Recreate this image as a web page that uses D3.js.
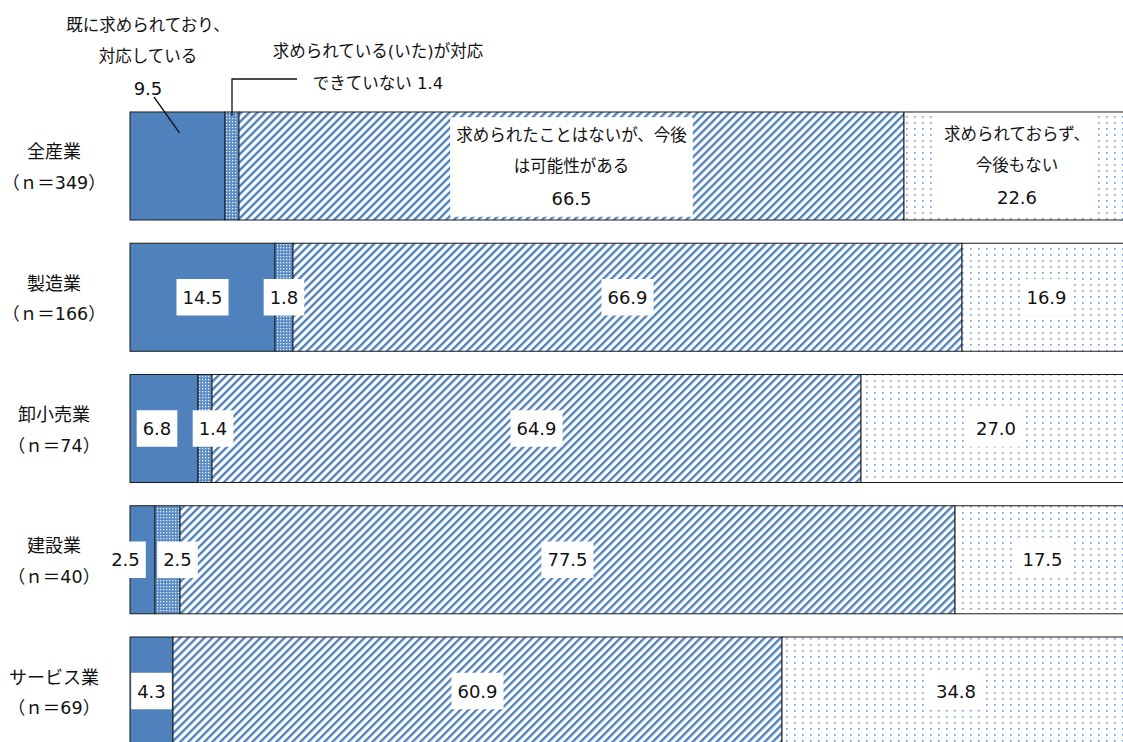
<!DOCTYPE html>
<html><head><meta charset="utf-8">
<script src="https://cdn.jsdelivr.net/npm/d3@7"></script>
<style>
html,body{margin:0;padding:0;background:#fff;overflow:hidden}
text{font-family:"DejaVu Sans","Noto Sans CJK JP",sans-serif;font-size:18px;fill:#111}
text.nl{font-size:17.5px}
text.jp{font-size:16.5px}
</style></head>
<body>
<svg id="chart" width="1123" height="742"></svg>
<script>
// ---- data ----
const categories = ["全産業","製造業","卸小売業","建設業","サービス業"];
const nLabels = ["（ｎ＝349）","（ｎ＝166）","（ｎ＝74）","（ｎ＝40）","（ｎ＝69）"];
const seriesNames = [
  "既に求められており、対応している",
  "求められている(いた)が対応できていない",
  "求められたことはないが、今後は可能性がある",
  "求められておらず、今後もない"
];
const s1 = [9.5, 14.5, 6.8, 2.5, 4.3];
const s2 = [1.4, 1.8, 1.4, 2.5, 0];
const s3 = [66.5, 66.9, 64.9, 77.5, 60.9];
const s4 = [22.6, 16.9, 27.0, 17.5, 34.8];
const seriesValues = [s1, s2, s3, s4];

// ---- layout / style ----
const blue = "#4F81BD";
const svg = d3.select("#chart");
const x = d3.scaleLinear().domain([0, 100]).range([130, 1130]);
const y = d3.scaleBand().domain(categories).range([88.75, 768.25]).padding(0.177);

const defs = svg.append("defs");
const p2 = defs.append("pattern").attr("id","p2").attr("width",3).attr("height",3).attr("patternUnits","userSpaceOnUse");
p2.append("rect").attr("width",3).attr("height",3).attr("fill","#5a8cc8");
p2.append("rect").attr("x",1).attr("y",1).attr("width",1.3).attr("height",1.3).attr("fill","#e8f0fa");
const p3 = defs.append("pattern").attr("id","p3").attr("width",5.66).attr("height",10)
  .attr("patternUnits","userSpaceOnUse").attr("patternTransform","rotate(45)");
p3.append("rect").attr("width",5.66).attr("height",10).attr("fill","#fff");
p3.append("rect").attr("width",2.4).attr("height",10).attr("fill",blue);
const p4 = defs.append("pattern").attr("id","p4").attr("width",8).attr("height",6).attr("patternUnits","userSpaceOnUse");
p4.append("rect").attr("width",8).attr("height",6).attr("fill","#fff");
p4.append("rect").attr("x",2).attr("y",2).attr("width",1.6).attr("height",1.6).attr("fill","#6e98cf");
const fills = [blue, "url(#p2)", "url(#p3)", "url(#p4)"];

// stacked data
const stacked = categories.map((c, i) => {
  let acc = 0;
  return seriesValues.map((s, k) => {
    const d = {cat: c, row: i, k, v: s[i], x0: acc, x1: acc + s[i]};
    acc += s[i];
    return d;
  });
});
const segs = stacked.flat().filter(d => d.v > 0);

svg.append("g").selectAll("rect").data(segs).join("rect")
  .attr("x", d => x(d.x0)).attr("y", d => y(d.cat))
  .attr("width", d => x(d.x1) - x(d.x0)).attr("height", y.bandwidth())
  .attr("fill", d => fills[d.k]).attr("stroke", "#1a1a1a").attr("stroke-width", 1);

// category labels
const catG = svg.append("g");
categories.forEach((c, i) => {
  const cy = y(c) + y.bandwidth()/2;
  catG.append("text").attr("x", 54).attr("y", cy - 14).attr("text-anchor","middle").attr("dominant-baseline","central").text(c);
  catG.append("text").attr("class","nl").attr("x", 54).attr("y", cy + 17).attr("text-anchor","middle").attr("dominant-baseline","central").text(nLabels[i]);
});

// label helpers
const labG = svg.append("g");
function boxLabel(cx, cy, lines, withBox) {
  const lh = 31.5;
  const g = labG.append("g");
  const rect = g.append("rect").attr("fill", "#fff");
  const t0 = cy - (lines.length - 1) * lh / 2;
  let maxW = 0;
  lines.forEach((ln, j) => {
    const t = g.append("text").attr("x", cx).attr("y", t0 + j*lh)
      .attr("class", /[^\x00-\x7f]/.test(ln) ? "jp" : null)
      .attr("text-anchor","middle").attr("dominant-baseline","central").text(ln);
    maxW = Math.max(maxW, t.node().getComputedTextLength());
  });
  if (withBox) {
    const h = lines.length * lh + 5;
    rect.attr("x", cx - maxW/2 - 6).attr("y", cy - h/2).attr("width", maxW + 12).attr("height", h);
  } else rect.remove();
}
const fmt = d3.format(".1f");
// per-label horizontal nudges (row,k) as in the original
const nudge = {"2-0": -7, "2-1": 8, "3-0": -17, "3-1": 10};

segs.forEach(d => {
  const cx = (x(d.x0) + x(d.x1)) / 2 + (nudge[d.row + "-" + d.k] || 0);
  const cy = y(d.cat) + y.bandwidth()/2;
  if (d.row === 0) {
    if (d.k === 2) boxLabel(cx, cy + 1, ["求められたことはないが、今後", "は可能性がある", fmt(d.v)], true);
    if (d.k === 3) boxLabel(cx, cy, ["求められておらず、", "今後もない", fmt(d.v)], true);
  } else {
    boxLabel(cx, cy, [fmt(d.v)], true);
  }
});

// external labels for first row, small segments
const r0 = stacked[0];
const top0 = y(categories[0]);
boxLabel(148, 56.5, ["既に求められており、", "対応している", fmt(r0[0].v)], false);
labG.append("path").attr("d", `M154,97 L${(x(r0[0].x0)+x(r0[0].x1))/2 + 2},${top0 + 21}`)
  .attr("stroke","#111").attr("stroke-width",1.3).attr("fill","none");
boxLabel(378, 67.5, ["求められている(いた)が対応", "できていない " + fmt(r0[1].v)], false);
const mx = (x(r0[1].x0) + x(r0[1].x1)) / 2;
labG.append("path").attr("d", `M297,79 H${mx} V${top0 + 4}`)
  .attr("stroke","#111").attr("stroke-width",1.3).attr("fill","none");
</script>
</body></html>
